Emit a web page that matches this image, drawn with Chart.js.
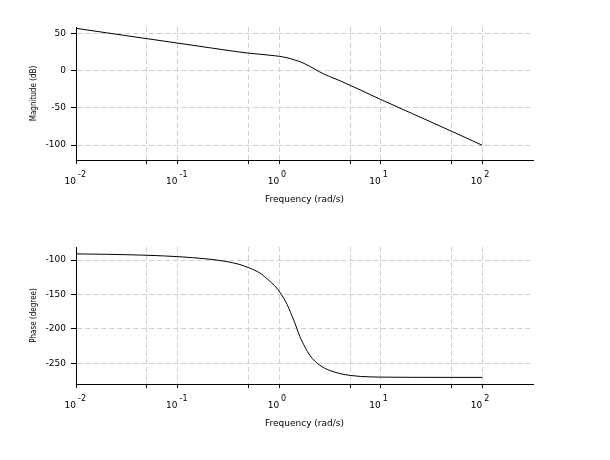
<!DOCTYPE html>
<html>
<head>
<meta charset="utf-8">
<script src="https://cdn.jsdelivr.net/npm/chart.js@4.4.1/dist/chart.umd.min.js"></script>
<style>
  html, body { margin: 0; padding: 0; background: #fff; }
  canvas { position: absolute; left: 0; }
  #magChart { top: 0; }
  #phaseChart { top: 230px; }
</style>
</head>
<body>
<canvas id="magChart" width="610" height="230"></canvas>
<canvas id="phaseChart" width="610" height="230"></canvas>
<script>
// frequency points (rad/s)
const freq = [0.01, 0.02, 0.05, 0.1, 0.2, 0.3, 0.4, 0.5, 0.65, 0.8, 0.9, 1.0, 1.1, 1.2, 1.3,
              1.41, 1.5, 1.6, 1.8, 2.0, 2.25, 2.5, 2.8, 3.15, 4.0, 5.0, 6.3, 8.0, 10, 20, 50, 100];
// magnitude (dB)
const magnitude = [57.0, 51.0, 43.1, 37.2, 31.2, 27.7, 25.3, 23.6, 22.2, 20.9, 20.2, 19.4, 18.5, 17.4, 16.2,
                   14.6, 13.5, 12.3, 9.2, 6.0, 2.0, -1.5, -4.8, -7.8, -13.6, -19.6, -25.8, -32.5, -38.6, -57.0, -81.4, -100.2];
// phase (degree)
const phase = [-91, -91.6, -93, -95, -98.5, -102, -106, -111, -119, -130, -137, -145, -154.5, -164.5, -176.5,
               -189, -200, -211, -226.5, -238, -246.8, -252.5, -257, -260.3, -265, -267.5, -269, -269.7, -270, -270.3, -270.4, -270.4];

const freqTicks = [0.01, 0.05, 0.1, 0.5, 1, 5, 10, 50, 100];
const magTicks = [-100, -50, 0, 50];
const phaseTicks = [-250, -200, -150, -100];

const FONT = 'DejaVu Sans';

function isPow10(v) {
    const e = Math.log10(v);
    return Math.abs(e - Math.round(e)) < 1e-9;
}

// draws the exponent next to each "10" tick label
const exponentPlugin = {
    id: 'exponents',
    afterDraw(chart) {
        const xs = chart.scales.x;
        const ctx = chart.ctx;
        ctx.save();
        ctx.font = '8px "' + FONT + '"';
        ctx.fillStyle = '#000';
        ctx.textAlign = 'left';
        ctx.textBaseline = 'alphabetic';
        freqTicks.forEach(v => {
            if (!isPow10(v)) return;
            const px = xs.getPixelForValue(v);
            ctx.fillText(String(Math.round(Math.log10(v))), px + 2, xs.top + 17);
        });
        ctx.restore();
    }
};

function bodeChart(canvas, values, yMin, yMax, yTicks, yTitle, padTop, xHeight, titlePad) {
    return new Chart(canvas, {
        type: 'line',
        data: {
            datasets: [{
                data: freq.map((f, i) => ({ x: f, y: values[i] })),
                borderColor: '#000',
                borderWidth: 1,
                pointRadius: 0,
                cubicInterpolationMode: 'monotone',
                fill: false
            }]
        },
        options: {
            responsive: false,
            animation: false,
            layout: { padding: { left: 0, right: 77, top: padTop, bottom: 0 } },
            plugins: { legend: { display: false }, tooltip: { enabled: false } },
            scales: {
                x: {
                    type: 'logarithmic',
                    min: 0.01,
                    max: Math.pow(10, 2.5),
                    afterBuildTicks: s => { s.ticks = freqTicks.map(v => ({ value: v })); },
                    afterFit: s => { s.height = xHeight; },
                    ticks: {
                        autoSkip: false,
                        maxRotation: 0,
                        align: 'end',
                        padding: 12,
                        color: '#000',
                        font: { family: FONT, size: 9 },
                        callback: v => isPow10(v) ? '10' : ''
                    },
                    grid: {
                        color: '#d0d0d0',
                        lineWidth: 1,
                        tickColor: '#000',
                        tickLength: 4,
                        tickBorderDash: []
                    },
                    border: { display: true, color: '#000', width: 1, dash: [5, 3] },
                    title: {
                        display: true,
                        text: 'Frequency (rad/s)',
                        color: '#000',
                        font: { family: FONT, size: 9 },
                        padding: { top: 0, bottom: titlePad }
                    }
                },
                y: {
                    min: yMin,
                    max: yMax,
                    afterBuildTicks: s => { s.ticks = yTicks.map(v => ({ value: v })); },
                    afterFit: s => { s.width = 76; },
                    ticks: {
                        padding: 5,
                        color: '#000',
                        font: { family: FONT, size: 9 }
                    },
                    grid: {
                        color: '#d0d0d0',
                        lineWidth: 1,
                        tickColor: '#000',
                        tickLength: 5,
                        tickBorderDash: []
                    },
                    border: { display: true, color: '#000', width: 1, dash: [5, 3] },
                    title: {
                        display: true,
                        text: yTitle,
                        color: '#000',
                        font: { family: '"Liberation Sans Narrow", "DejaVu Sans Condensed", sans-serif', size: 8 },
                        padding: { top: 29, bottom: 0 }
                    }
                }
            }
        },
        plugins: [exponentPlugin]
    });
}

bodeChart(document.getElementById('magChart'), magnitude, -120, 58.8, magTicks,
          'Magnitude (dB)', 27, 70, 25);
bodeChart(document.getElementById('phaseChart'), phase, -280, -81, phaseTicks,
          'Phase (degree)', 17, 76, 31);
</script>
</body>
</html>
